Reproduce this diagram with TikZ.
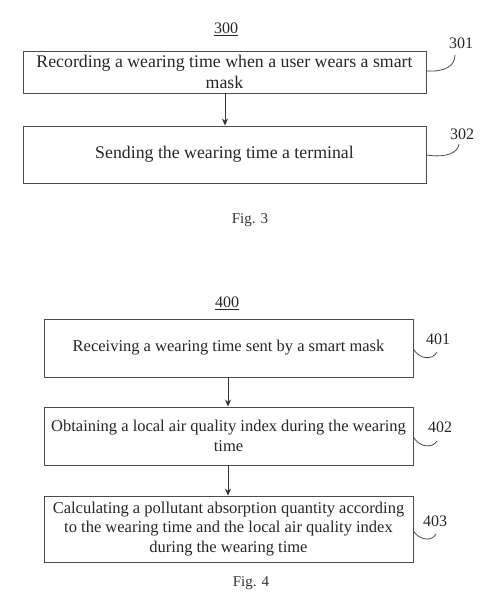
\documentclass[tikz,border=0pt]{standalone}
\usepackage{fontspec}
\setmainfont{Liberation Serif}
\usetikzlibrary{arrows.meta}
\begin{document}
\begin{tikzpicture}[x=1pt,y=-1pt,
  stepbox/.style={draw=black!70,line width=0.9pt,inner sep=0pt,align=center,text=black!85},
  fa/.style={font=\fontsize{17.8}{21}\selectfont},
  fb/.style={font=\fontsize{16.5}{19.4}\selectfont},
  lbl/.style={font=\fontsize{16}{18}\selectfont,text=black!85,inner sep=1pt},
  arr/.style={draw=black!80,line width=0.8pt,-{Stealth[length=7pt,width=6pt]}},
  lead/.style={draw=black!70,line width=0.8pt},
  figcap/.style={font=\fontsize{15}{17}\selectfont,text=black!80}]
\useasboundingbox (0,0) rectangle (483,605);
% Fig 3
\node[lbl] (t300) at (226,29) {\underline{300}};
\node[stepbox,fa,minimum width=403pt,minimum height=42pt] (b301) at (224.5,72) {Recording a wearing time when a user wears a smart\\mask};
\node[stepbox,fa,minimum width=403pt,minimum height=57pt] (b302) at (224.5,154.5) {Sending the wearing time a terminal};
\draw[arr] (b301.south -| 225,0) -- (b302.north -| 225,0);
\node[lbl] (l301) at (461,43) {301};
\node[lbl] (l302) at (462,134) {302};
\coordinate (c301) at (455,55);
\coordinate (c302) at (459,144);
\draw[lead] (b301.east |- 0,71) .. controls (445,72) and (455,66) .. (c301);
\draw[lead] (b302.east |- 0,155) .. controls (446,158) and (458,153) .. (c302);
\node[figcap] (f3) at (250,220) {Fig. 3};
% Fig 4
\node[lbl] (t400) at (227,303) {\underline{400}};
\node[stepbox,fb,minimum width=369pt,minimum height=58pt] (b401) at (228.5,348) {Receiving a wearing time sent by a smart mask};
\node[stepbox,fb,minimum width=369pt,minimum height=58pt] (b402) at (228.5,436) {Obtaining a local air quality index during the wearing\\time};
\node[stepbox,fb,minimum width=369pt,minimum height=66pt] (b403) at (228.5,529) {Calculating a pollutant absorption quantity according\\to the wearing time and the local air quality index\\during the wearing time};
\draw[arr] (b401.south -| 228,0) -- (b402.north -| 228,0);
\draw[arr] (b402.south -| 228,0) -- (b403.north -| 228,0);
\node[lbl] (l401) at (438,339) {401};
\node[lbl] (l402) at (440,427) {402};
\node[lbl] (l403) at (435,521) {403};
\coordinate (c401) at (437,352);
\coordinate (c402) at (437,441);
\coordinate (c403) at (436,534);
\draw[lead] (b401.east |- 0,349) .. controls (419,359) and (432,361) .. (c401);
\draw[lead] (b402.east |- 0,437) .. controls (419,447) and (432,449) .. (c402);
\draw[lead] (b403.east |- 0,531) .. controls (419,540) and (432,542) .. (c403);
\node[figcap] (f4) at (251,583) {Fig. 4};
\end{tikzpicture}
\end{document}
